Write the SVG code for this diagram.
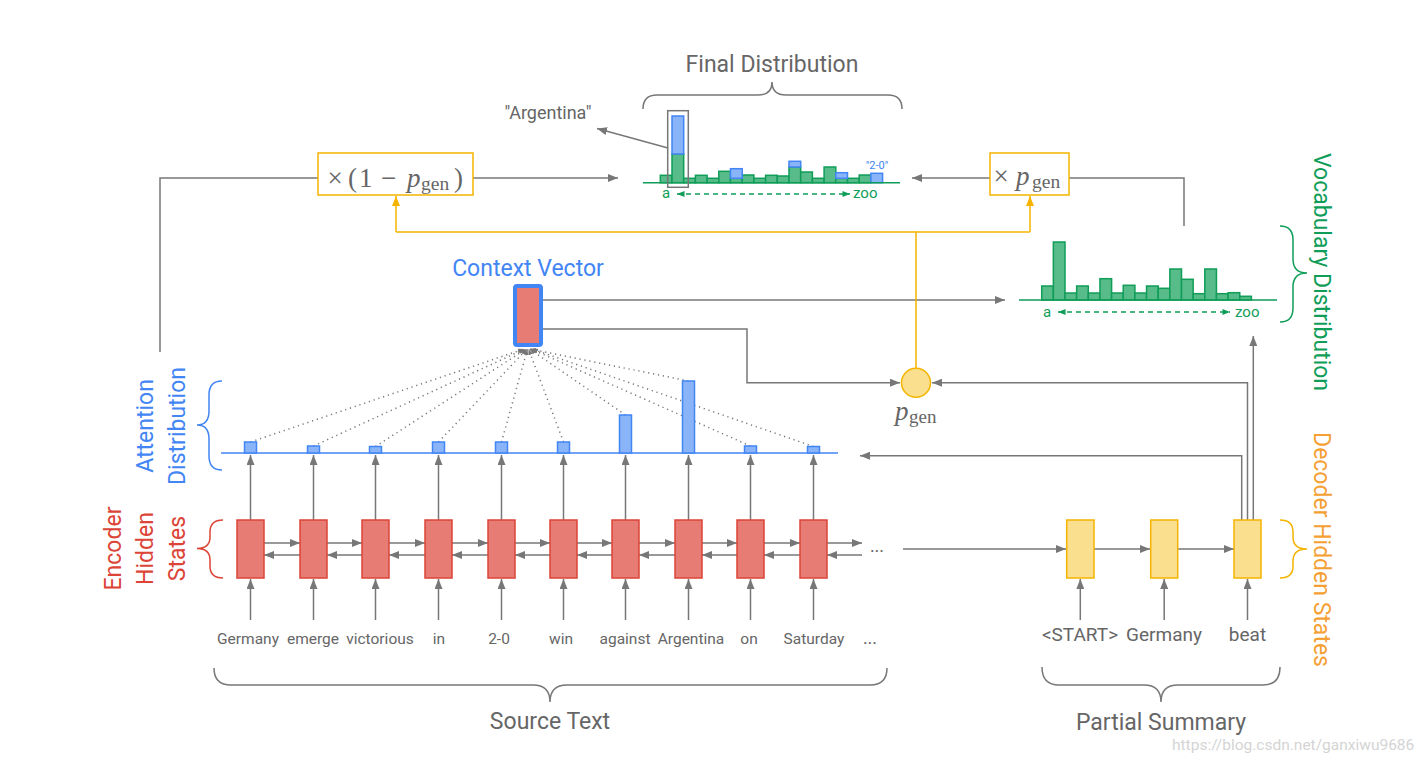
<svg xmlns="http://www.w3.org/2000/svg" width="1421" height="762" viewBox="0 0 1421 762">
<defs>
<style>
.ln{fill:none;stroke:#777;stroke-width:1.5}
.yl{fill:none;stroke:#f4b400;stroke-width:1.5}
.dot{fill:none;stroke:#777;stroke-width:1.5;stroke-dasharray:1.2 3.8}
.enc{fill:#e67c73;stroke:#db4437;stroke-width:1.5}
.dec{fill:#fadf8f;stroke:#f4b400;stroke-width:1.5}
.gb{fill:#57bb8a;stroke:#0f9d58;stroke-width:1.5}
.bb{fill:#8ab4f8;stroke:#4285f4;stroke-width:1.5}
.t{font-family:Roboto,"Liberation Sans",sans-serif;fill:#666}
.w{font-size:15.5px;text-anchor:middle}
.wd{font-size:19px;text-anchor:middle}
.h{font-size:23px;text-anchor:middle}
.m{font-family:"Liberation Serif","DejaVu Serif",serif;fill:#666;font-size:27px}
.gt{font-family:Roboto,"Liberation Sans",sans-serif;fill:#0f9d58;font-size:15px}
</style>
<marker id="ag" viewBox="0 0 10 8" refX="10" refY="4" markerWidth="10" markerHeight="8" markerUnits="userSpaceOnUse" orient="auto"><path d="M0,0 L10,4 L0,8 z" fill="#777"/></marker>
<marker id="ay" viewBox="0 0 10 8" refX="10" refY="4" markerWidth="10" markerHeight="8" markerUnits="userSpaceOnUse" orient="auto"><path d="M0,0 L10,4 L0,8 z" fill="#f4b400"/></marker>
<marker id="as" viewBox="0 0 10 8" refX="10" refY="4" markerWidth="6" markerHeight="5" markerUnits="userSpaceOnUse" orient="auto"><path d="M0,0 L10,4 L0,8 z" fill="#777"/></marker>
<marker id="agr" viewBox="0 0 10 8" refX="10" refY="4" markerWidth="8" markerHeight="6" markerUnits="userSpaceOnUse" orient="auto-start-reverse"><path d="M0,0 L10,4 L0,8 z" fill="#0f9d58"/></marker>
</defs>
<rect width="1421" height="762" fill="#fff"/>

<g id="connectors">
<g class="ln" marker-end="url(#ag)">
<path d="M250.5,620V579"/><path d="M313.5,620V579"/><path d="M375.5,620V579"/><path d="M438.5,620V579"/><path d="M501.5,620V579"/><path d="M563.5,620V579"/><path d="M625.5,620V579"/><path d="M688.5,620V579"/><path d="M750.5,620V579"/><path d="M813.5,620V579"/>
<path d="M250.5,520V455"/><path d="M313.5,520V455"/><path d="M375.5,520V455"/><path d="M438.5,520V455"/><path d="M501.5,520V455"/><path d="M563.5,520V455"/><path d="M625.5,520V455"/><path d="M688.5,520V455"/><path d="M750.5,520V455"/><path d="M813.5,520V455"/>
<path d="M264,543H300"/><path d="M327,543H362"/><path d="M389,543H425"/><path d="M452,543H488"/><path d="M515,543H550"/><path d="M577,543H612"/><path d="M639,543H675"/><path d="M702,543H737"/><path d="M764,543H800"/><path d="M827,543H862"/>
<path d="M300,555H264"/><path d="M362,555H327"/><path d="M425,555H389"/><path d="M488,555H452"/><path d="M550,555H515"/><path d="M612,555H577"/><path d="M675,555H639"/><path d="M737,555H702"/><path d="M800,555H764"/><path d="M862,555H827"/>
<path d="M903,549H1066"/><path d="M1094,549H1150"/><path d="M1178,549H1234"/>
<path d="M1080.3,620V579"/><path d="M1164.2,620V579"/><path d="M1247.5,620V579"/>
<path d="M1241.7,520V455.7H860"/>
<path d="M1247.5,520V382.7H932"/>
<path d="M1253.3,520V336"/>
<path d="M543,300H1005"/>
<path d="M543,329H747V382.7H900"/>
<path d="M473,178H618"/>
<path d="M990,178H912"/>
<path d="M668,148L597,128.5"/>
</g>
<path class="ln" d="M160,352V178H318"/>
<path class="ln" d="M1069,178H1184V226"/>
<path class="yl" d="M916,368V232H396"/>
<path class="yl" d="M916,232H1030"/>
<path class="yl" d="M396,232V196" marker-end="url(#ay)"/>
<path class="yl" d="M1030,232V196" marker-end="url(#ay)"/>
<g class="dot" marker-end="url(#as)">
<path d="M250.5,442L524,349"/><path d="M313.5,446L525,349"/><path d="M375.5,446.5L526,349"/><path d="M438.5,442L527,349"/><path d="M501.5,442L527.5,349"/><path d="M563.5,442L528.5,349"/><path d="M625.5,415L529.5,349"/><path d="M688.5,381L530,349"/><path d="M750.5,446L531,349"/><path d="M813.5,446.5L532,349"/>
</g>
</g>

<g id="attention">
<line x1="221" y1="453" x2="838" y2="453" stroke="#4285f4" stroke-width="1.5"/>
<rect class="bb" x="244.5" y="442" width="12" height="11"/>
<rect class="bb" x="307.5" y="446" width="12" height="7"/>
<rect class="bb" x="369.5" y="446.5" width="12" height="6.5"/>
<rect class="bb" x="432.5" y="442" width="12" height="11"/>
<rect class="bb" x="495.5" y="442" width="12" height="11"/>
<rect class="bb" x="557.5" y="442" width="12" height="11"/>
<rect class="bb" x="619.5" y="415" width="12" height="38"/>
<rect class="bb" x="682.5" y="381" width="12" height="72"/>
<rect class="bb" x="744.5" y="446" width="12" height="7"/>
<rect class="bb" x="807.5" y="446.5" width="12" height="6.5"/>
</g>

<g id="encoder">
<rect class="enc" x="237" y="520" width="27" height="58"/>
<rect class="enc" x="300" y="520" width="27" height="58"/>
<rect class="enc" x="362" y="520" width="27" height="58"/>
<rect class="enc" x="425" y="520" width="27" height="58"/>
<rect class="enc" x="488" y="520" width="27" height="58"/>
<rect class="enc" x="550" y="520" width="27" height="58"/>
<rect class="enc" x="612" y="520" width="27" height="58"/>
<rect class="enc" x="675" y="520" width="27" height="58"/>
<rect class="enc" x="737" y="520" width="27" height="58"/>
<rect class="enc" x="800" y="520" width="27" height="58"/>
<text class="t" x="877" y="552" font-size="18" text-anchor="middle">...</text>
</g>

<g id="source-words" class="t w">
<text x="248" y="644">Germany</text>
<text x="313" y="644">emerge</text>
<text x="380" y="644">victorious</text>
<text x="439" y="644">in</text>
<text x="499" y="644">2-0</text>
<text x="561" y="644">win</text>
<text x="625" y="644">against</text>
<text x="691" y="644">Argentina</text>
<text x="749" y="644">on</text>
<text x="814" y="644">Saturday</text>
<text x="870" y="644" font-size="18">...</text>
</g>

<g id="decoder">
<rect class="dec" x="1066.7" y="520" width="27.3" height="58"/>
<rect class="dec" x="1150.7" y="520" width="27" height="58"/>
<rect class="dec" x="1234" y="520" width="27" height="58"/>
<g class="t wd">
<text x="1080" y="641">&lt;START&gt;</text>
<text x="1164" y="641">Germany</text>
<text x="1247.5" y="641">beat</text>
</g>
</g>

<g id="context-vector">
<rect x="515" y="286" width="26" height="59" rx="2" fill="#e67c73" stroke="#4285f4" stroke-width="4"/>
<text x="528" y="276" font-family="Roboto,'Liberation Sans',sans-serif" font-size="23" fill="#4285f4" text-anchor="middle">Context Vector</text>
</g>

<g id="pgen">
<circle cx="916" cy="382.7" r="14.5" fill="#fadf8f" stroke="#f4b400" stroke-width="1.5"/>
<text class="m"><tspan x="895" y="419.5" font-style="italic">p</tspan><tspan x="909" y="423" font-size="19">gen</tspan></text>
</g>

<g id="one-minus-pgen">
<rect x="318" y="153" width="155" height="42" fill="#fff" stroke="#f4b400" stroke-width="1.5"/>
<text class="m"><tspan x="327.5" y="187">×</tspan><tspan x="348" y="187">(</tspan><tspan x="359" y="187">1</tspan><tspan x="381" y="187">−</tspan><tspan x="407" y="187" font-style="italic">p</tspan><tspan x="421" y="190" font-size="19.5">gen</tspan><tspan x="454" y="187">)</tspan></text>
</g>

<g id="times-pgen">
<rect x="990" y="153" width="79" height="42" fill="#fff" stroke="#f4b400" stroke-width="1.5"/>
<text class="m"><tspan x="993.5" y="185">×</tspan><tspan x="1016" y="185" font-style="italic">p</tspan><tspan x="1032" y="188" font-size="19.5">gen</tspan></text>
</g>

<g id="vocab-distribution">
<g class="gb">
<rect x="1041.7" y="286" width="11.65" height="14"/>
<rect x="1053.35" y="242" width="11.65" height="58"/>
<rect x="1065" y="293" width="11.65" height="7"/>
<rect x="1076.65" y="286" width="11.65" height="14"/>
<rect x="1088.3" y="293" width="11.65" height="7"/>
<rect x="1099.95" y="278.7" width="11.65" height="21.3"/>
<rect x="1111.6" y="293" width="11.65" height="7"/>
<rect x="1123.25" y="285.3" width="11.65" height="14.7"/>
<rect x="1134.9" y="293" width="11.65" height="7"/>
<rect x="1146.55" y="286" width="11.65" height="14"/>
<rect x="1158.2" y="288.3" width="11.65" height="11.7"/>
<rect x="1169.85" y="269" width="11.65" height="31"/>
<rect x="1181.5" y="279.3" width="11.65" height="20.7"/>
<rect x="1193.15" y="293.7" width="11.65" height="6.3"/>
<rect x="1204.8" y="269" width="11.65" height="31"/>
<rect x="1216.45" y="293.7" width="11.65" height="6.3"/>
<rect x="1228.1" y="292.7" width="11.65" height="7.3"/>
<rect x="1239.75" y="296.3" width="11.65" height="3.7"/>
</g>
<line x1="1019" y1="300" x2="1277" y2="300" stroke="#0f9d58" stroke-width="1.5"/>
<text class="gt" x="1047" y="316.5" text-anchor="middle">a</text>
<path d="M1058,312H1230" stroke="#0f9d58" stroke-width="1.5" stroke-dasharray="5 4" fill="none" marker-start="url(#agr)" marker-end="url(#agr)"/>
<text class="gt" x="1235" y="316.5">zoo</text>
<path d="M1280,226 Q1293,226 1293,240 L1293,259 Q1293,273 1307,273 Q1293,273 1293,287 L1293,308 Q1293,322 1280,322" fill="none" stroke="#0f9d58" stroke-width="1.5"/>
<text transform="translate(1314,272) rotate(90)" font-family="Roboto,'Liberation Sans',sans-serif" font-size="23" fill="#0f9d58" text-anchor="middle">Vocabulary Distribution</text>
</g>

<g id="final-distribution">
<g class="gb">
<rect x="660.3" y="175.3" width="11.7" height="7.4"/>
<rect x="672" y="154" width="11.7" height="28.7"/>
<rect x="683.7" y="178.3" width="11.7" height="4.4"/>
<rect x="695.4" y="175.3" width="11.7" height="7.4"/>
<rect x="707.1" y="178.3" width="11.7" height="4.4"/>
<rect x="718.8" y="171.3" width="11.7" height="11.4"/>
<rect x="730.5" y="178.3" width="11.7" height="4.4"/>
<rect x="742.2" y="175" width="11.7" height="7.7"/>
<rect x="753.9" y="178.3" width="11.7" height="4.4"/>
<rect x="765.6" y="175.3" width="11.7" height="7.4"/>
<rect x="777.3" y="176" width="11.7" height="6.7"/>
<rect x="789" y="167" width="11.7" height="15.7"/>
<rect x="800.7" y="172" width="11.7" height="10.7"/>
<rect x="812.4" y="178.3" width="11.7" height="4.4"/>
<rect x="824.1" y="167" width="11.7" height="15.7"/>
<rect x="835.8" y="178.3" width="11.7" height="4.4"/>
<rect x="847.5" y="178.3" width="11.7" height="4.4"/>
<rect x="859.2" y="175" width="11.7" height="7.7"/>
</g>
<g class="bb">
<rect x="672" y="116" width="11.7" height="38"/>
<rect x="730.5" y="168.7" width="11.7" height="9.6"/>
<rect x="789" y="161.3" width="11.7" height="5.7"/>
<rect x="835.8" y="172.7" width="11.7" height="5.6"/>
<rect x="870.9" y="173.3" width="11.7" height="9.4"/>
</g>
<line x1="643" y1="182.7" x2="900" y2="182.7" stroke="#0f9d58" stroke-width="1.5"/>
<rect x="667.7" y="110.7" width="20.6" height="76.6" fill="none" stroke="#777" stroke-width="1.5"/>
<text x="877" y="169" font-family="Roboto,'Liberation Sans',sans-serif" font-size="11" fill="#4285f4" text-anchor="middle">"2-0"</text>
<text class="gt" x="666" y="198" text-anchor="middle">a</text>
<path d="M677,194H850" stroke="#0f9d58" stroke-width="1.5" stroke-dasharray="5 4" fill="none" marker-start="url(#agr)" marker-end="url(#agr)"/>
<text class="gt" x="853" y="198">zoo</text>
<path d="M643,109 Q643,95 657,95 L758,95 Q772,95 772,82 Q772,95 786,95 L888,95 Q902,95 902,109" fill="none" stroke="#777" stroke-width="1.5"/>
<text class="t h" x="772" y="72">Final Distribution</text>
<text class="t" x="548" y="119" font-size="18" text-anchor="middle">"Argentina"</text>
</g>

<g id="labels">
<path d="M222,381 Q209,381 209,395 L209,411 Q209,425 197,425 Q209,425 209,439 L209,456 Q209,470 222,470" fill="none" stroke="#4285f4" stroke-width="1.5"/>
<g font-family="Roboto,'Liberation Sans',sans-serif" font-size="23" text-anchor="middle">
<text transform="translate(153,426) rotate(-90)" fill="#4285f4">Attention</text>
<text transform="translate(185,426) rotate(-90)" fill="#4285f4">Distribution</text>
<text transform="translate(121,548.5) rotate(-90)" fill="#db4437">Encoder</text>
<text transform="translate(153,548.5) rotate(-90)" fill="#db4437">Hidden</text>
<text transform="translate(185,548.5) rotate(-90)" fill="#db4437">States</text>
<text transform="translate(1314,549.5) rotate(90)" fill="#f5a033">Decoder Hidden States</text>
</g>
<path d="M223,520 Q210,520 210,532 L210,537 Q210,548.5 197,548.5 Q210,548.5 210,560 L210,566 Q210,578 223,578" fill="none" stroke="#db4437" stroke-width="1.5"/>
<path d="M1280,520 Q1293,520 1293,532 L1293,537 Q1293,549 1307,549 Q1293,549 1293,561 L1293,566 Q1293,578 1280,578" fill="none" stroke="#f4b400" stroke-width="1.5"/>
<path d="M214,668 Q214,685 231,685 L533,685 Q550,685 550,702 Q550,685 567,685 L870,685 Q887,685 887,668" fill="none" stroke="#777" stroke-width="1.5"/>
<path d="M1042,667 Q1042,685 1059,685 L1144,685 Q1161,685 1161,702 Q1161,685 1178,685 L1263,685 Q1280,685 1280,667" fill="none" stroke="#777" stroke-width="1.5"/>
<text class="t h" x="550" y="729">Source Text</text>
<text class="t h" x="1161" y="730">Partial Summary</text>
<text x="1172" y="750" font-family="Roboto,'Liberation Sans',sans-serif" font-size="15.5" fill="#d4d4d4">https://blog.csdn.net/ganxiwu9686</text>
</g>
</svg>
